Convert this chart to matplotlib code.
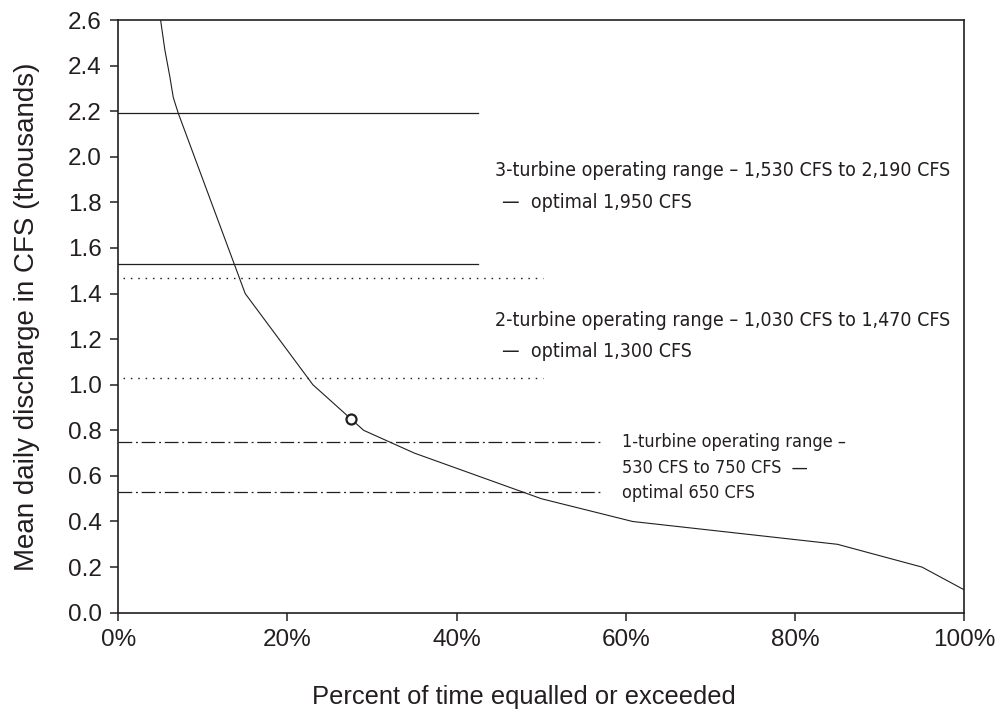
import matplotlib
matplotlib.use("Agg")
import matplotlib.pyplot as plt
from matplotlib import font_manager as fm

# ---- data ----
pct_exceeded = [5.0, 5.5, 6.1, 6.5, 7.1, 15.0, 23.0, 29.0, 35.0, 50.0, 60.8, 85.0, 95.0, 100.0]
discharge_k = [2.60, 2.47, 2.35, 2.26, 2.19, 1.40, 1.00, 0.80, 0.70, 0.50, 0.40, 0.30, 0.20, 0.10]
marker_x = [27.5]
marker_y = [0.85]

solid_levels = [2.19, 1.53]
solid_extent = [0.0, 42.5]
dotted_levels = [1.47, 1.03]
dotted_extent = [0.6, 50.2]
dashdot_levels = [0.75, 0.53]
dashdot_extent = [0.0, 57.1]

x_ticks = [0, 20, 40, 60, 80, 100]
x_tick_labels = ["0%", "20%", "40%", "60%", "80%", "100%"]
y_ticks = [0.0, 0.2, 0.4, 0.6, 0.8, 1.0, 1.2, 1.4, 1.6, 1.8, 2.0, 2.2, 2.4, 2.6]

note3 = ["3-turbine operating range \u2013 1,530 CFS to 2,190 CFS", "\u2014  optimal 1,950 CFS"]
note2 = ["2-turbine operating range \u2013 1,030 CFS to 1,470 CFS", "\u2014  optimal 1,300 CFS"]
note1 = ["1-turbine operating range \u2013", "530 CFS to 750 CFS  \u2014", "optimal 650 CFS"]

# ---- fonts ----
names = {f.name for f in fm.fontManager.ttflist}
main_font = "Liberation Sans" if "Liberation Sans" in names else "DejaVu Sans"
if "Liberation Sans Narrow" in names:
    narrow = dict(family="Liberation Sans Narrow")
else:
    narrow = dict(family="DejaVu Sans", stretch="condensed")
plt.rcParams["font.family"] = [main_font, "DejaVu Sans"]

ink = "#231f20"
fig = plt.figure(figsize=(10.05, 7.12), dpi=100)
ax = fig.add_axes([0.1177, 0.1395, 0.8418, 0.8324])

ax.plot(pct_exceeded, discharge_k, color=ink, lw=0.8, zorder=3)
ax.plot(marker_x, marker_y, "o", ms=7.2, mfc="white", mec=ink, mew=1.6, zorder=4)

for lv in solid_levels:
    ax.plot(solid_extent, [lv, lv], color=ink, lw=0.9)
for lv in dotted_levels:
    ax.plot(dotted_extent, [lv, lv], color=ink, lw=1.0, linestyle=(0, (1.1, 4.2)))
for lv in dashdot_levels:
    ax.plot(dashdot_extent, [lv, lv], color=ink, lw=0.9, linestyle=(0, (11, 3, 1.5, 3)))

fs_note = 14
fs_note1 = 13
ax.text(44.5, 1.94, note3[0], fontsize=fs_note, color=ink, va="center", **narrow)
ax.text(45.4, 1.80, note3[1], fontsize=fs_note, color=ink, va="center", **narrow)
ax.text(44.5, 1.283, note2[0], fontsize=fs_note, color=ink, va="center", **narrow)
ax.text(45.4, 1.145, note2[1], fontsize=fs_note, color=ink, va="center", **narrow)
ax.text(59.5, 0.749, note1[0], fontsize=fs_note1, color=ink, va="center", **narrow)
ax.text(59.5, 0.636, note1[1], fontsize=fs_note1, color=ink, va="center", **narrow)
ax.text(59.5, 0.526, note1[2], fontsize=fs_note1, color=ink, va="center", **narrow)

ax.set_xlim(0, 100)
ax.set_ylim(0, 2.6)
ax.set_xticks(x_ticks)
ax.set_xticklabels(x_tick_labels)
ax.set_yticks(y_ticks)
ax.set_yticklabels([f"{v:.1f}" for v in y_ticks])
ax.tick_params(direction="out", length=6, width=1.1, colors=ink, labelsize=17.5, pad=6)
for s in ax.spines.values():
    s.set_linewidth(1.2)
    s.set_color(ink)

ax.set_xlabel("Percent of time equalled or exceeded", fontsize=18.4, color=ink)
ax.xaxis.set_label_coords(0.4796, -0.122)
ax.set_ylabel("Mean daily discharge in CFS (thousands)", fontsize=20, color=ink, labelpad=20)

fig.savefig("out.png", dpi=100)
